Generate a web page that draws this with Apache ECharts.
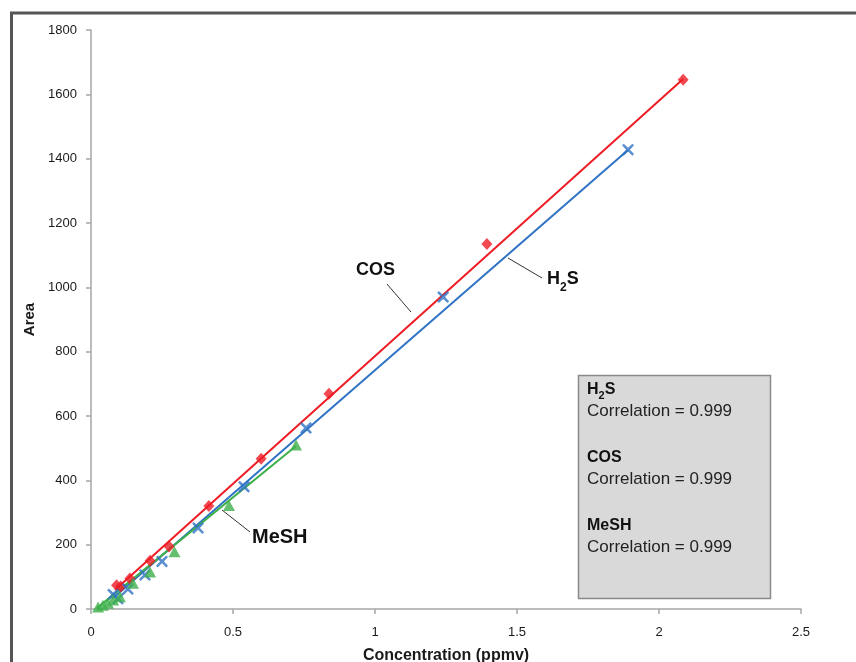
<!DOCTYPE html>
<html>
<head>
<meta charset="utf-8">
<script src="https://cdn.jsdelivr.net/npm/echarts@6/dist/echarts.min.js"></script>
<style>html,body{margin:0;padding:0;background:#fff;}#c{width:856px;height:662px;}</style>
</head>
<body>
<div id="c"></div>
<script>
// ---- data ----
const xTicks = [0, 0.5, 1, 1.5, 2, 2.5];
const yTicks = [0, 200, 400, 600, 800, 1000, 1200, 1400, 1600, 1800];

const cosPoints = [[0.09, 74], [0.105, 70], [0.137, 95], [0.208, 150], [0.275, 194], [0.415, 320], [0.599, 467], [0.838, 669], [1.394, 1135], [2.085, 1645]];
const h2sPoints = [[0.078, 45], [0.095, 32], [0.13, 62], [0.19, 106], [0.25, 148], [0.377, 252], [0.539, 380], [0.757, 563], [1.24, 970], [1.891, 1428]];
const meshPoints = [[0.025, 6], [0.042, 12], [0.06, 18], [0.078, 28], [0.102, 38], [0.148, 80], [0.208, 115], [0.294, 178], [0.486, 322], [0.722, 510]];

// trendline end points
const cosFit = [[0.085, 60], [2.085, 1648]];
const h2sFit = [[0.075, 32], [1.891, 1427]];
const meshFit = [[0.02, 2], [0.722, 507]];

const corrLabels = ['Correlation = 0.999', 'Correlation = 0.999', 'Correlation = 0.999'];

// ---- chart ----
const RED = '#ee1c25', BLUE = '#2f73c4', GREEN = '#3db04a';
const XMARK = 'path://M1.4,0 L5,3.4 L8.6,0 L10,1.4 L6.6,5 L10,8.6 L8.6,10 L5,6.6 L1.4,10 L0,8.6 L3.4,5 L0,1.4 Z';
const chart = echarts.init(document.getElementById('c'), null, {renderer: 'canvas'});
const FONT = '"Liberation Sans", Arial, sans-serif';
const lbl = {fontFamily: FONT, fontSize: 13, color: '#1a1a1a'};

const option = {
  backgroundColor: '#fff',
  animation: false,
  grid: {left: 91, right: 55, top: 30, bottom: 53, outerBoundsMode: 'none', containLabel: false},
  xAxis: {
    type: 'value', min: xTicks[0], max: xTicks[xTicks.length - 1], interval: xTicks[1] - xTicks[0],
    splitLine: {show: false},
    axisLine: {lineStyle: {color: '#a6a6a6', width: 1.5}},
    axisTick: {show: true, length: 5, lineStyle: {color: '#a6a6a6', width: 1.5}},
    axisLabel: Object.assign({margin: 17, formatter: v => String(v)}, lbl),
    name: 'Concentration (ppmv)', nameLocation: 'middle', nameGap: 39,
    nameTextStyle: {fontFamily: FONT, fontSize: 16, fontWeight: 'bold', color: '#1a1a1a'}
  },
  yAxis: {
    type: 'value', min: yTicks[0], max: yTicks[yTicks.length - 1], interval: yTicks[1] - yTicks[0],
    splitLine: {show: false},
    axisLine: {show: true, lineStyle: {color: '#a6a6a6', width: 1.5}},
    axisTick: {show: true, length: 5, lineStyle: {color: '#a6a6a6', width: 1.5}},
    axisLabel: Object.assign({margin: 14, formatter: v => String(v)}, lbl),
    name: 'Area', nameLocation: 'middle', nameGap: 53,
    nameTextStyle: {fontFamily: FONT, fontSize: 15, fontWeight: 'bold', color: '#1a1a1a'}
  },
  series: [
    {type: 'line', data: cosFit, symbol: 'none', lineStyle: {color: RED, width: 2}, z: 2},
    {type: 'line', data: h2sFit, symbol: 'none', lineStyle: {color: BLUE, width: 2}, z: 2},
    {type: 'line', data: meshFit, symbol: 'none', lineStyle: {color: GREEN, width: 2}, z: 2},
    {type: 'scatter', data: cosPoints, symbol: 'diamond', symbolSize: [11, 12], itemStyle: {color: RED}, z: 3},
    {type: 'scatter', data: h2sPoints, symbol: XMARK, symbolSize: 12, itemStyle: {color: BLUE}, z: 3},
    {type: 'scatter', data: meshPoints, symbol: 'triangle', symbolSize: [12, 11], itemStyle: {color: GREEN}, z: 4}
  ],
  graphic: [
    // outer frame
    {type: 'rect', shape: {x: 11.5, y: 13, width: 900, height: 700}, style: {fill: 'none', stroke: '#555', lineWidth: 3}, silent: true, z: 10},
    // leader lines
    {type: 'line', shape: {x1: 387, y1: 284, x2: 411, y2: 312}, style: {stroke: '#333', lineWidth: 1}},
    {type: 'line', shape: {x1: 508, y1: 258, x2: 542, y2: 278}, style: {stroke: '#333', lineWidth: 1}},
    {type: 'line', shape: {x1: 222, y1: 510, x2: 250, y2: 532}, style: {stroke: '#333', lineWidth: 1}},
    // annotations
    {type: 'text', left: 356, top: 261, style: {text: 'COS', font: 'bold 18px ' + FONT, fill: '#111'}},
    {type: 'text', left: 547, top: 270, style: {
      text: '{m|H}{s|2}{m|S}', font: 'bold 18px ' + FONT, fill: '#111',
      rich: {m: {fontFamily: FONT, fontSize: 18, fontWeight: 'bold', color: '#111', verticalAlign: 'top', lineHeight: 24},
             s: {fontFamily: FONT, fontSize: 12, fontWeight: 'bold', color: '#111', verticalAlign: 'bottom', lineHeight: 24, padding: [12, 0, 0, 0]}}
    }},
    {type: 'text', left: 252, top: 527, style: {text: 'MeSH', font: 'bold 20px ' + FONT, fill: '#111'}},
    // correlation box
    {type: 'rect', shape: {x: 578.5, y: 375.5, width: 192, height: 223}, style: {fill: '#d9d9d9', stroke: '#8a8a8a', lineWidth: 1.5}},
    {type: 'text', left: 587, top: 381, style: {
      text: '{m|H}{s|2}{m|S}', font: 'bold 16px ' + FONT, fill: '#111',
      rich: {m: {fontFamily: FONT, fontSize: 16, fontWeight: 'bold', color: '#111', verticalAlign: 'top', lineHeight: 19},
             s: {fontFamily: FONT, fontSize: 11, fontWeight: 'bold', color: '#111', verticalAlign: 'bottom', lineHeight: 19, padding: [9, 0, 0, 0]}}
    }},
    {type: 'text', left: 587, top: 403, style: {text: corrLabels[0], font: '17px ' + FONT, fill: '#222'}},
    {type: 'text', left: 587, top: 450, style: {text: 'COS', font: 'bold 16px ' + FONT, fill: '#111'}},
    {type: 'text', left: 587, top: 471, style: {text: corrLabels[1], font: '17px ' + FONT, fill: '#222'}},
    {type: 'text', left: 587, top: 518, style: {text: 'MeSH', font: 'bold 16px ' + FONT, fill: '#111'}},
    {type: 'text', left: 587, top: 539, style: {text: corrLabels[2], font: '17px ' + FONT, fill: '#222'}}
  ]
};
chart.setOption(option);
</script>
</body>
</html>
